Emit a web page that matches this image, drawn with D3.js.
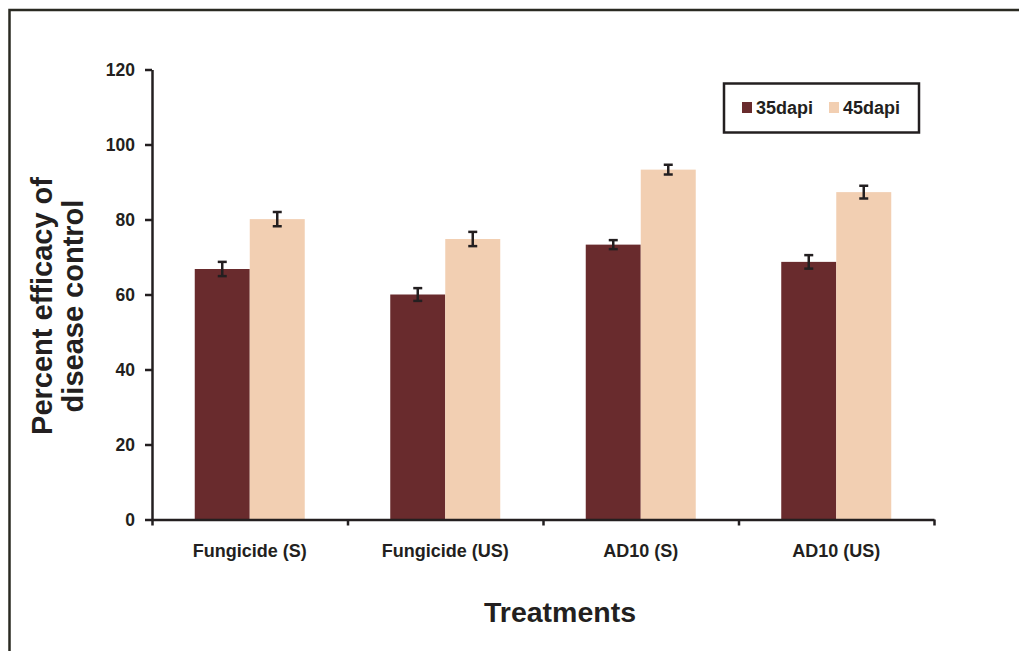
<!DOCTYPE html>
<html>
<head>
<meta charset="utf-8">
<script src="https://cdn.jsdelivr.net/npm/d3@7"></script>
<style>
  html, body { margin: 0; padding: 0; background: #fff; }
  svg { display: block; }
</style>
</head>
<body>
<svg id="chart" width="1019" height="651"></svg>
<script>
// Treatments and the two observation times
const categories = ["Fungicide (S)", "Fungicide (US)", "AD10 (S)", "AD10 (US)"];
const seriesNames = ["35dapi", "45dapi"];
const values35 = [66.8, 60.0, 73.3, 68.7];
const values45 = [80.1, 74.8, 93.3, 87.3];
const err35 = [1.9, 1.7, 1.2, 1.8];
const err45 = [1.9, 1.9, 1.3, 1.7];
const yTicks = [0, 20, 40, 60, 80, 100, 120];
const colors = ["#692b2d", "#f2cfb2"];

const ink = "#231f20";
const font = "Arial, 'Liberation Sans', sans-serif";

const svg = d3.select("#chart");

// outer frame
svg.append("path")
  .attr("d", "M9.5,651 L9.5,10 L1019,10")
  .attr("fill", "none")
  .attr("stroke", "#2a2a22")
  .attr("stroke-width", 2.5);

const plot = { left: 152, right: 934, top: 69.5, bottom: 519.5 };

const x0 = d3.scaleBand().domain(categories).range([plot.left, plot.right]).paddingInner(0).paddingOuter(0);
const groupW = 110;
const x1 = d3.scaleBand().domain(seriesNames).range([0, groupW]).padding(0);
const y = d3.scaleLinear().domain([0, 120]).range([plot.bottom, plot.top]);

const rows = categories.map((c, i) => ({
  cat: c,
  bars: [
    { s: seriesNames[0], v: values35[i], e: err35[i] },
    { s: seriesNames[1], v: values45[i], e: err45[i] }
  ]
}));

const groups = svg.append("g").selectAll("g").data(rows).join("g")
  .attr("transform", d => `translate(${x0(d.cat) + (x0.bandwidth() - groupW) / 2},0)`);

groups.selectAll("rect").data(d => d.bars).join("rect")
  .attr("x", d => x1(d.s))
  .attr("y", d => y(d.v))
  .attr("width", x1.bandwidth())
  .attr("height", d => y(0) - y(d.v))
  .attr("fill", (d, i) => colors[i]);

// error bars
const eb = groups.selectAll("g.err").data(d => d.bars).join("g").attr("class", "err");
eb.append("line")
  .attr("x1", d => x1(d.s) + x1.bandwidth() / 2)
  .attr("x2", d => x1(d.s) + x1.bandwidth() / 2)
  .attr("y1", d => y(d.v + d.e))
  .attr("y2", d => y(d.v - d.e))
  .attr("stroke", ink).attr("stroke-width", 2.5);
eb.selectAll("line.cap").data(d => [{ b: d, v: d.v + d.e }, { b: d, v: d.v - d.e }]).join("line")
  .attr("class", "cap")
  .attr("x1", d => x1(d.b.s) + x1.bandwidth() / 2 - 4.5)
  .attr("x2", d => x1(d.b.s) + x1.bandwidth() / 2 + 4.5)
  .attr("y1", d => y(d.v))
  .attr("y2", d => y(d.v))
  .attr("stroke", ink).attr("stroke-width", 2.5);

// y axis
const yAxis = svg.append("g")
  .attr("transform", `translate(${plot.left},0)`)
  .call(d3.axisLeft(y).tickValues(yTicks).tickSize(7).tickSizeOuter(0).tickPadding(10));
yAxis.select(".domain").attr("stroke", ink).attr("stroke-width", 2.5);
yAxis.selectAll(".tick line").attr("stroke", ink).attr("stroke-width", 2.5);
yAxis.selectAll(".tick text")
  .attr("font-family", font).attr("font-weight", "bold").attr("font-size", "17.5px").attr("fill", ink);

// x axis with category boundaries as ticks
const xEdge = d3.scaleLinear().domain([0, categories.length]).range([plot.left, plot.right]);
const xAxis = svg.append("g")
  .attr("transform", `translate(0,${plot.bottom})`)
  .call(d3.axisBottom(xEdge).tickValues(d3.range(0, categories.length + 1)).tickSize(6).tickSizeOuter(0).tickFormat(""));
xAxis.select(".domain").attr("stroke", ink).attr("stroke-width", 2.5);
xAxis.selectAll(".tick line").attr("stroke", ink).attr("stroke-width", 2.5);

svg.append("g").selectAll("text").data(categories).join("text")
  .attr("x", d => x0(d) + x0.bandwidth() / 2)
  .attr("y", 557)
  .attr("text-anchor", "middle")
  .attr("font-family", font).attr("font-weight", "bold").attr("font-size", "18px")
  .attr("fill", ink)
  .text(d => d);

// axis titles
svg.append("text")
  .attr("x", 560).attr("y", 622)
  .attr("text-anchor", "middle")
  .attr("font-family", font).attr("font-weight", "bold").attr("font-size", "28.5px")
  .attr("fill", ink)
  .text("Treatments");

const yTitle = svg.append("text")
  .attr("transform", "translate(0,306) rotate(-90)")
  .attr("text-anchor", "middle")
  .attr("font-family", font).attr("font-weight", "bold").attr("font-size", "29px")
  .attr("fill", ink);
yTitle.append("tspan").attr("x", 0).attr("y", 52).text("Percent efficacy of");
yTitle.append("tspan").attr("x", 0).attr("y", 83).text("disease control");

// legend
const legend = svg.append("g");
legend.append("rect")
  .attr("x", 724).attr("y", 83.5).attr("width", 195).attr("height", 49)
  .attr("fill", "#fff").attr("stroke", ink).attr("stroke-width", 2.5);
const legX = [742, 829];
seriesNames.forEach((s, i) => {
  legend.append("rect")
    .attr("x", legX[i]).attr("y", 102).attr("width", 10).attr("height", 11)
    .attr("fill", colors[i]);
  legend.append("text")
    .attr("x", legX[i] + 14).attr("y", 114)
    .attr("font-family", font).attr("font-weight", "bold").attr("font-size", "18px")
    .attr("fill", ink)
    .text(s);
});
</script>
</body>
</html>
